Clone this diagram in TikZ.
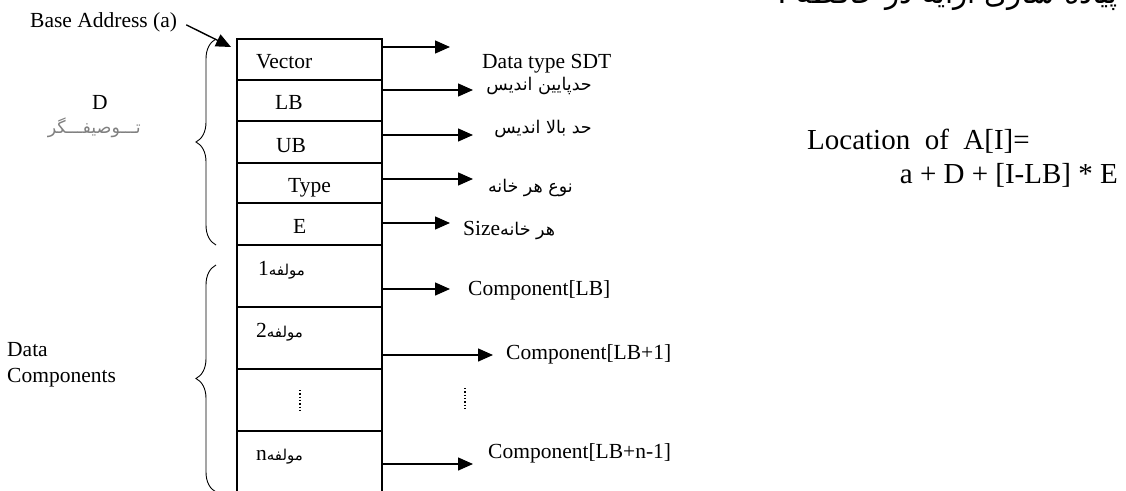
\documentclass[tikz,border=0pt]{standalone}
\usepackage{fontspec}
\setmainfont{Liberation Serif}
\newfontfamily\fa[Script=Arabic]{DejaVu Sans}
\TeXXeTstate=1
\usetikzlibrary{arrows.meta,decorations.pathreplacing}
\begin{document}
\begin{tikzpicture}[x=1pt,y=-1pt,
  cell/.style={draw,line width=1.6pt,minimum width=145pt,anchor=north west,inner sep=0pt,outer sep=0pt},
  lab/.style={font=\fontsize{21.5}{26}\selectfont,inner sep=0pt,anchor=base west},
  big/.style={font=\fontsize{29}{34}\selectfont,inner sep=0pt},
  falab/.style={font=\fa\fontsize{17.5}{21}\selectfont,inner sep=0pt,anchor=base east},
  arr/.style={line width=1.4pt,-{Triangle[length=15pt,width=13pt]}},
  br/.style={decorate,decoration={brace,amplitude=20pt},line width=0.9pt}]
\useasboundingbox (0,0) rectangle (1126,490);
\clip (0,0) rectangle (1126,490);
% memory cells
\node[cell,minimum height=41pt] (vec) at (237,39) {};
\node[cell,minimum height=41pt] (lb) at (237,80) {};
\node[cell,minimum height=42pt] (ub) at (237,121) {};
\node[cell,minimum height=40pt] (typ) at (237,163) {};
\node[cell,minimum height=42pt] (e) at (237,203) {};
\node[cell,minimum height=62pt] (c1) at (237,245) {};
\node[cell,minimum height=62pt] (c2) at (237,307) {};
\node[cell,minimum height=62pt] (cd) at (237,369) {};
\node[cell,minimum height=70pt] (cn) at (237,431) {};
% cell texts
\node[lab] at (256,68) {Vector};
\node[lab] at (275,109) {LB};
\node[lab] at (276,152) {UB};
\node[lab] at (288,192) {Type};
\node[lab] at (293,233) {E};
\node[lab] at (258,275) {1{\fa\fontsize{15}{18}\selectfont\beginR مولفه\endR}};
\node[lab] at (256,337) {2{\fa\fontsize{15}{18}\selectfont\beginR مولفه\endR}};
\node[lab] at (256,460) {n{\fa\fontsize{15}{18}\selectfont\beginR مولفه\endR}};
\draw[dotted,line width=1.3pt] (300,390) -- (300,410);
% base address
\node[lab] (base) at (30,27) {Base Address (a)};
\draw[arr] ([xshift=9pt,yshift=-3pt]base.east) -- ([xshift=-6pt,yshift=-8pt]vec.north west);
% left labels and braces
\node[lab] (D) at (92,109) {D};
\node[anchor=base east,inner sep=0pt,font=\fa\fontsize{17.5}{21}\selectfont,text=gray] (desc) at (141,133) {\beginR تـــوصیفـــگر\endR};
\draw[br] (216,245) -- (216,39);
\draw[br] (216,492) -- (216,265);
\node[lab] (dc) at (7,356) {Data};
\node[lab] at (7,382) {Components};
% arrow targets
\coordinate (t1) at (450,47);
\coordinate (t2) at (473,90);
\coordinate (t3) at (473,135);
\coordinate (t4) at (473,179);
\coordinate (t5) at (450,223);
\coordinate (t6) at (450,289);
\coordinate (t7) at (493,355);
\coordinate (t8) at (473,464);
\draw[arr] (vec.east |- t1) -- (t1);
\draw[arr] (lb.east |- t2) -- (t2);
\draw[arr] (ub.east |- t3) -- (t3);
\draw[arr] (typ.east |- t4) -- (t4);
\draw[arr] (e.east |- t5) -- (t5);
\draw[arr] (c1.east |- t6) -- (t6);
\draw[arr] (c2.east |- t7) -- (t7);
\draw[arr] (cn.east |- t8) -- (t8);
% right labels
\node[lab] at (482,68) {Data type SDT};
\node[falab] at (592,90) {\beginR حدپایین اندیس\endR};
\node[falab] at (592,133) {\beginR حد بالا اندیس\endR};
\node[falab] at (573,192) {\beginR نوع هر خانه\endR};
\node[lab] at (463,235) {Size{\fa\fontsize{17.5}{21}\selectfont\beginR هر خانه\endR}};
\node[lab] at (468,295) {Component[LB]};
\node[lab] at (506,359) {Component[LB+1]};
\draw[dotted,line width=1.3pt] (465,388) -- (465,410);
\node[lab] at (488,458) {Component[LB+n-1]};
% formula
\node[big,anchor=base west] at (807,149) {Location\ \ of\ \ A[I]=};
\node[big,anchor=base east] at (1118,183) {a + D + [I-LB] * E};
% title (cut at the top, as in the reference)
\node[anchor=base east,inner sep=0pt,font=\fa\fontsize{29}{34}\selectfont] at (1118,3) {\beginR پیاده سازی آرایه در حافظه :\endR};
\end{tikzpicture}
\end{document}
